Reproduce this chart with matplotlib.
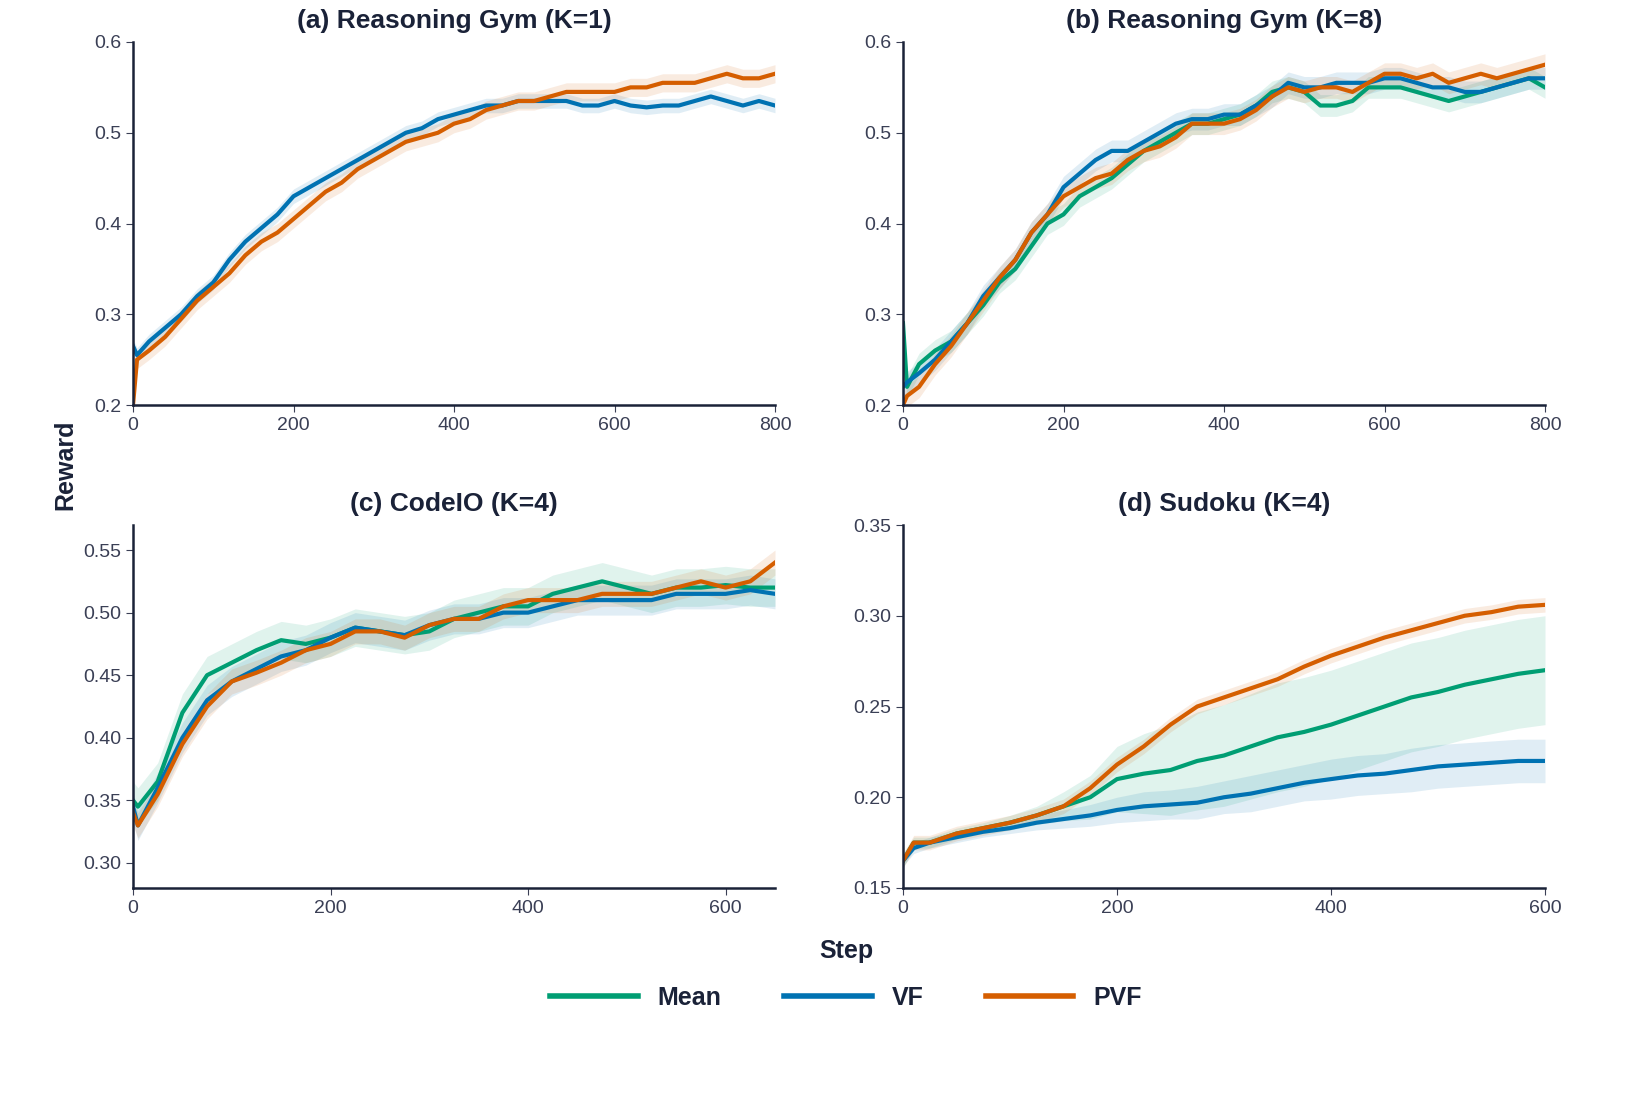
import matplotlib
matplotlib.use("Agg")
import matplotlib.pyplot as plt
import numpy as np

plt.rcParams['font.family'] = ['Liberation Sans', 'DejaVu Sans']

C_MEAN, C_VF, C_PVF = "#009E73", "#0072B2", "#D55E00"
NAVY = "#1a2238"

# (a) Reasoning Gym K=1
xa = [0,5,20,40,60,80,100,120,140,160,180,200,220,240,260,280,300,320,340,360,380,400,420,440,460,480,500,520,540,560,580,600,620,640,660,680,700,720,740,760,780,800]
a_vf = [0.265,0.255,0.27,0.285,0.30,0.32,0.335,0.36,0.38,0.395,0.41,0.43,0.44,0.45,0.46,0.47,0.48,0.49,0.50,0.505,0.515,0.52,0.525,0.53,0.53,0.535,0.535,0.535,0.535,0.53,0.53,0.535,0.53,0.528,0.53,0.53,0.535,0.54,0.535,0.53,0.535,0.53]
a_pvf = [0.20,0.25,0.26,0.275,0.295,0.315,0.33,0.345,0.365,0.38,0.39,0.405,0.42,0.435,0.445,0.46,0.47,0.48,0.49,0.495,0.50,0.51,0.515,0.525,0.53,0.535,0.535,0.54,0.545,0.545,0.545,0.545,0.55,0.55,0.555,0.555,0.555,0.56,0.565,0.56,0.56,0.565]

# (b) Reasoning Gym K=8
xb = xa
b_mean = [0.29,0.22,0.245,0.26,0.27,0.29,0.31,0.335,0.35,0.375,0.40,0.41,0.43,0.44,0.45,0.465,0.48,0.49,0.50,0.51,0.51,0.515,0.52,0.53,0.545,0.55,0.545,0.53,0.53,0.535,0.55,0.55,0.55,0.545,0.54,0.535,0.54,0.545,0.55,0.555,0.56,0.55]
b_vf = [0.22,0.225,0.235,0.25,0.27,0.29,0.32,0.34,0.36,0.39,0.41,0.44,0.455,0.47,0.48,0.48,0.49,0.50,0.51,0.515,0.515,0.52,0.52,0.53,0.54,0.555,0.55,0.55,0.555,0.555,0.555,0.56,0.56,0.555,0.55,0.55,0.545,0.545,0.55,0.555,0.56,0.56]
b_pvf = [0.20,0.21,0.22,0.245,0.265,0.29,0.315,0.34,0.36,0.39,0.41,0.43,0.44,0.45,0.455,0.47,0.48,0.485,0.495,0.51,0.51,0.51,0.515,0.525,0.54,0.55,0.545,0.55,0.55,0.545,0.555,0.565,0.565,0.56,0.565,0.555,0.56,0.565,0.56,0.565,0.57,0.575]

# (c) CodeIO K=4
xc = [0,5,25,50,75,100,125,150,175,200,225,250,275,300,325,350,375,400,425,450,475,500,525,550,575,600,625,650]
c_mean = [0.35,0.345,0.365,0.42,0.45,0.46,0.47,0.478,0.475,0.48,0.488,0.485,0.482,0.485,0.495,0.50,0.505,0.505,0.515,0.52,0.525,0.52,0.515,0.52,0.52,0.522,0.52,0.52]
c_vf = [0.345,0.33,0.36,0.40,0.43,0.445,0.455,0.465,0.47,0.48,0.488,0.485,0.482,0.49,0.495,0.495,0.50,0.50,0.505,0.51,0.51,0.51,0.51,0.515,0.515,0.515,0.518,0.515]
c_pvf = [0.34,0.33,0.355,0.395,0.425,0.445,0.452,0.46,0.47,0.475,0.485,0.485,0.48,0.49,0.495,0.495,0.505,0.51,0.51,0.51,0.515,0.515,0.515,0.52,0.525,0.52,0.525,0.54]

# (d) Sudoku K=4
xd = [0,10,25,50,75,100,125,150,175,200,225,250,275,300,325,350,375,400,425,450,475,500,525,550,575,600]
d_mean = [0.165,0.175,0.175,0.18,0.183,0.186,0.19,0.195,0.20,0.21,0.213,0.215,0.22,0.223,0.228,0.233,0.236,0.24,0.245,0.25,0.255,0.258,0.262,0.265,0.268,0.27]
d_mean_band = [0.004,0.003,0.003,0.003,0.003,0.004,0.005,0.008,0.012,0.018,0.022,0.025,0.027,0.028,0.029,0.03,0.03,0.03,0.03,0.03,0.03,0.03,0.03,0.03,0.03,0.03]
d_vf = [0.165,0.172,0.175,0.178,0.181,0.183,0.186,0.188,0.19,0.193,0.195,0.196,0.197,0.20,0.202,0.205,0.208,0.21,0.212,0.213,0.215,0.217,0.218,0.219,0.22,0.22]
d_vf_band = [0.003,0.003,0.003,0.003,0.003,0.003,0.004,0.005,0.006,0.007,0.008,0.008,0.009,0.009,0.01,0.01,0.01,0.011,0.011,0.011,0.012,0.012,0.012,0.012,0.012,0.012]
d_pvf = [0.165,0.175,0.175,0.18,0.183,0.186,0.19,0.195,0.205,0.218,0.228,0.24,0.25,0.255,0.26,0.265,0.272,0.278,0.283,0.288,0.292,0.296,0.30,0.302,0.305,0.306]

panels = [
    ("(a) Reasoning Gym (K=1)", xa, [(a_vf, C_VF, 0.008), (a_pvf, C_PVF, 0.01)], (0.2, 0.6), [0.2,0.3,0.4,0.5,0.6], 800, "{:.1f}"),
    ("(b) Reasoning Gym (K=8)", xb, [(b_mean, C_MEAN, 0.012), (b_vf, C_VF, 0.012), (b_pvf, C_PVF, 0.012)], (0.2, 0.6), [0.2,0.3,0.4,0.5,0.6], 800, "{:.1f}"),
    ("(c) CodeIO (K=4)", xc, [(c_mean, C_MEAN, 0.015), (c_vf, C_VF, 0.012), (c_pvf, C_PVF, 0.01)], (0.28, 0.57), [0.30,0.35,0.40,0.45,0.50,0.55], 650, "{:.2f}"),
    ("(d) Sudoku (K=4)", xd, [(d_mean, C_MEAN, d_mean_band), (d_vf, C_VF, d_vf_band), (d_pvf, C_PVF, 0.004)], (0.15, 0.35), [0.15,0.20,0.25,0.30,0.35], 600, "{:.2f}"),
]

fig = plt.figure(figsize=(16.5, 11), dpi=100)
pos = [(133, 42), (903, 42), (133, 525), (903, 525)]
W, H = 642, 363
for (title, x, series, ylim, yt, xmax, fmt), (l, t) in zip(panels, pos):
    ax = fig.add_axes([l/1650, 1-(t+H)/1100, W/1650, H/1100])
    for y, c, band in series:
        y = np.array(y)
        band = np.array(band)
        ax.fill_between(x, y-band, y+band, color=c, alpha=0.12, lw=0)
        ax.plot(x, y, color=c, lw=3)
    ax.set_xlim(0, xmax)
    ax.set_ylim(*ylim)
    ax.set_yticks(yt)
    ax.set_yticklabels([fmt.format(v) for v in yt])
    ax.set_xticks([v for v in [0,200,400,600,800] if v <= xmax])
    ax.set_title(title, fontsize=19, fontweight="bold", color=NAVY, pad=10)
    for s in ["top", "right"]:
        ax.spines[s].set_visible(False)
    for s in ["left", "bottom"]:
        ax.spines[s].set_color(NAVY)
        ax.spines[s].set_linewidth(1.8)
    ax.tick_params(labelsize=14, colors="#3a3f55", length=5)

fig.text(65/1650, 1-465/1100, "Reward", rotation=90, fontsize=18, fontweight="bold", ha="center", va="center", color=NAVY)
fig.text(846/1650, 1-951/1100, "Step", fontsize=18, fontweight="bold", ha="center", va="center", color=NAVY)
handles = [plt.Line2D([], [], color=c, lw=4) for c in (C_MEAN, C_VF, C_PVF)]
leg = fig.legend(handles, ["Mean", "VF", "PVF"], loc="center", bbox_to_anchor=(846/1650, 1-998/1100), ncol=3, frameon=False,
                 prop={"size": 18, "weight": "bold"}, handlelength=3.5, columnspacing=2.5)
for t in leg.get_texts():
    t.set_color(NAVY)
fig.savefig("out.png", dpi=100, facecolor="white")
